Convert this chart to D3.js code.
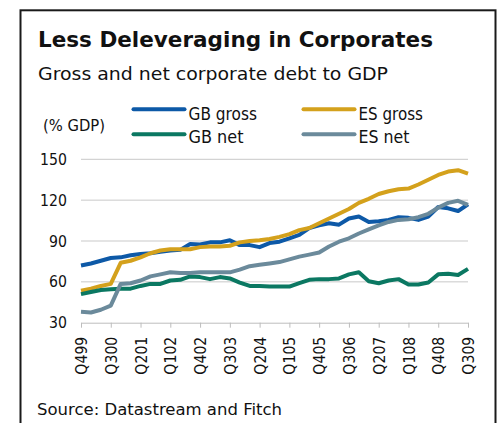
<!DOCTYPE html>
<html>
<head>
<meta charset="utf-8">
<script src="https://cdn.jsdelivr.net/npm/d3@7"></script>
<style>
  html, body { margin: 0; padding: 0; background: #fff; }
  svg { display: block; font-family: "DejaVu Sans", Verdana, sans-serif; }
</style>
</head>
<body>
<svg id="chart" width="500" height="423"></svg>
<script>
// Quarterly categories, Q4 1999 to Q3 2009
const quarters = [
  "Q499","Q100","Q200","Q300","Q400","Q101","Q201","Q301","Q401","Q102",
  "Q202","Q302","Q402","Q103","Q203","Q303","Q403","Q104","Q204","Q304",
  "Q404","Q105","Q205","Q305","Q405","Q106","Q206","Q306","Q406","Q107",
  "Q207","Q307","Q407","Q108","Q208","Q308","Q408","Q109","Q209","Q309"
];
const tickLabels = ["Q499","Q300","Q201","Q102","Q402","Q303","Q204","Q105",
                    "Q405","Q306","Q207","Q108","Q408","Q309"];
const yTicks = [30, 60, 90, 120, 150];

// Corporate debt, % of GDP
const gbGross = [72, 73.5, 75.5, 77.5, 78, 79.5, 80.5, 81, 82, 83,
                 83.5, 87.8, 87.5, 89, 89, 90.5, 87, 87, 85.5, 88.5,
                 89.5, 92, 94.5, 99.5, 101.5, 103, 102, 106.5, 108, 104,
                 104.5, 105.5, 107.5, 107, 105.5, 108, 115, 114, 112, 117];
const esGross = [53.5, 55, 57, 58.5, 74, 75.5, 78, 81, 83, 84,
                 84, 84, 85.5, 86, 86, 86.5, 89, 90, 90.5, 91.5,
                 93, 95, 98, 99.5, 103, 106.5, 110, 113.5, 118, 121,
                 124.5, 126.5, 128, 128.5, 131.5, 135, 138.5, 141, 142, 139.5];
const gbNet   = [51, 52.5, 54, 54.5, 55, 55, 57, 58.5, 58.5, 61,
                 61.5, 64, 63.5, 62, 63.5, 62.5, 59.5, 57, 57, 56.5,
                 56.5, 56.5, 59, 61.5, 62, 62, 62.5, 65.5, 67, 60.5,
                 59, 61, 62, 58, 58, 59.5, 65.5, 66, 65, 69.5];
const esNet   = [38, 37.5, 39.5, 42.5, 58.5, 59, 61, 64, 65.5, 67,
                 66.5, 66.5, 67, 67, 67, 67, 69, 71.5, 72.5, 73.5,
                 74.5, 76.5, 78.5, 80, 81.5, 86, 89.5, 92, 95.5, 98.5,
                 101.5, 104, 105.5, 106, 107.5, 110, 114.5, 118, 119.5, 116.5];

const seriesNames  = ["GB gross", "ES gross", "GB net", "ES net"];
const seriesColors = ["#0d59a7", "#d4a11c", "#0b7862", "#6b8a9b"];
const seriesValues = [gbGross, esGross, gbNet, esNet];

const svg = d3.select("#chart");

// Outer frame (runs off the bottom edge)
svg.append("rect")
  .attr("x", 20.5).attr("y", 10.3)
  .attr("width", 475).attr("height", 440)
  .attr("fill", "none").attr("stroke", "#1a1a1a").attr("stroke-width", 2);

// Helper: squeeze text to a narrower, Tahoma-like set width
function squeeze(sel, factor) {
  sel.each(function () {
    const w = this.getComputedTextLength();
    d3.select(this).attr("textLength", w * factor).attr("lengthAdjust", "spacingAndGlyphs");
  });
}

svg.append("text")
  .attr("x", 38).attr("y", 46.7)
  .attr("font-size", 21).attr("font-weight", "bold").attr("fill", "#111")
  .attr("textLength", 395).attr("lengthAdjust", "spacingAndGlyphs")
  .text("Less Deleveraging in Corporates");

svg.append("text")
  .attr("x", 38).attr("y", 80)
  .attr("font-size", 18.5).attr("fill", "#111")
  .attr("textLength", 350).attr("lengthAdjust", "spacingAndGlyphs")
  .text("Gross and net corporate debt to GDP");

svg.append("text")
  .attr("x", 43).attr("y", 130.5)
  .attr("font-size", 16).attr("fill", "#111")
  .attr("textLength", 62).attr("lengthAdjust", "spacingAndGlyphs")
  .text("(% GDP)");

// Scales
const x = d3.scalePoint().domain(quarters).range([81, 468]);
const y = d3.scaleLinear().domain([30, 150]).range([322.7, 159.3]);

// Horizontal gridlines
svg.append("g")
  .selectAll("line")
  .data(yTicks.filter(v => v > 30))
  .join("line")
  .attr("x1", 81).attr("x2", 468)
  .attr("y1", d => y(d)).attr("y2", d => y(d))
  .attr("stroke", "#c9c9c9").attr("stroke-width", 1);

// Y axis labels
const yAxis = svg.append("g")
  .attr("transform", "translate(81,0)")
  .call(d3.axisLeft(y).tickValues(yTicks).tickSize(0).tickPadding(14));
yAxis.select(".domain").remove();
yAxis.selectAll("text")
  .attr("font-size", 16).attr("fill", "#111")
  .attr("font-family", "DejaVu Sans, sans-serif");
squeeze(yAxis.selectAll("text"), 0.88);

// X axis
const xAxis = svg.append("g")
  .attr("transform", `translate(0,${y(30)})`)
  .call(d3.axisBottom(x).tickValues(tickLabels).tickSize(5).tickSizeOuter(0));
xAxis.select(".domain").attr("stroke", "#bdbdbd");
xAxis.selectAll(".tick line").attr("stroke", "#bdbdbd");
xAxis.selectAll("text")
  .attr("transform", "rotate(-90)")
  .attr("x", -14).attr("y", 0).attr("dy", "0.35em")
  .style("text-anchor", "end")
  .attr("font-size", 16).attr("fill", "#111")
  .attr("font-family", "DejaVu Sans, sans-serif");
squeeze(xAxis.selectAll("text"), 0.88);

// Series lines
const line = d3.line()
  .x((d, i) => x(quarters[i]))
  .y(d => y(d));

svg.append("g")
  .selectAll("path")
  .data(seriesValues)
  .join("path")
  .attr("d", d => line(d))
  .attr("fill", "none")
  .attr("stroke", (d, i) => seriesColors[i])
  .attr("stroke-width", 4)
  .attr("stroke-linejoin", "round");

// Legend (two rows, two columns)
const legendPos = [
  { sx: 133.5, ty: 120, sy: 109.3 },
  { sx: 303.5, ty: 120, sy: 109.3 },
  { sx: 133.5, ty: 142.7, sy: 134.3 },
  { sx: 303.5, ty: 142.7, sy: 134.3 }
];
const legendWidths = [68.4, 64.4, 55, 51];
const legend = svg.append("g");
seriesNames.forEach((name, i) => {
  const p = legendPos[i];
  legend.append("line")
    .attr("x1", p.sx).attr("x2", p.sx + 51)
    .attr("y1", p.sy).attr("y2", p.sy)
    .attr("stroke", seriesColors[i]).attr("stroke-width", 4)
    .attr("stroke-linecap", "round");
  legend.append("text")
    .attr("x", p.sx + 55).attr("y", p.ty)
    .attr("font-size", 17).attr("fill", "#111")
    .attr("textLength", legendWidths[i]).attr("lengthAdjust", "spacingAndGlyphs")
    .text(name);
});

// Source note
svg.append("text")
  .attr("x", 37).attr("y", 414.5)
  .attr("font-size", 16).attr("fill", "#111")
  .attr("textLength", 245).attr("lengthAdjust", "spacingAndGlyphs")
  .text("Source: Datastream and Fitch");
</script>
</body>
</html>
